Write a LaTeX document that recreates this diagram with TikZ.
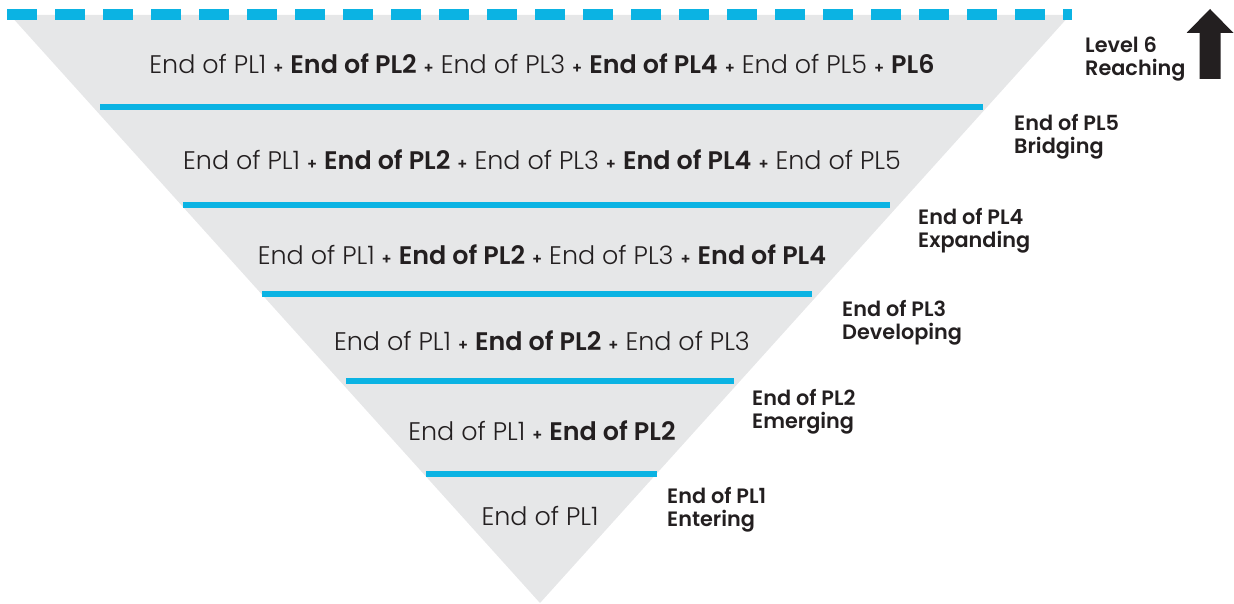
\documentclass[tikz,border=0pt]{standalone}
\usepackage{fontspec}
\setmainfont{Poppins}[UprightFont={* Light},BoldFont={* SemiBold}]
\definecolor{tri}{HTML}{E6E7E8}
\definecolor{lvl}{HTML}{0BB3E3}
\definecolor{ink}{HTML}{231F20}
\newcommand{\pls}{\hspace{7pt}{\bfseries\fontsize{15}{20}\selectfont +}\hspace{7pt}}
\tikzset{
  rowtext/.style={inner sep=0pt, text=ink, font=\fontsize{25.4}{30}\selectfont},
  lvltext/.style={inner sep=0pt, anchor=west, align=left, text=ink, font=\bfseries\fontsize{20.8}{23}\selectfont},
  band/.style={draw=lvl, line width=6pt},
}
\begin{document}
\begin{tikzpicture}[x=1pt,y=-1pt]
\useasboundingbox (0,0) rectangle (1234,604);
% triangle
\fill[tri] (10,15) -- (1070,15) -- (540,603) -- cycle;
% dashed top
\draw[lvl, line width=11pt, dash pattern=on 30pt off 18pt] (7,15) -- (1072,15);
% bands
\draw[band] (100,107) -- (983,107);
\draw[band] (183,205) -- (890,205);
\draw[band] (262,294) -- (812,294);
\draw[band] (346,381) -- (734,381);
\draw[band] (426,474) -- (657,474);
% row texts
\node[rowtext] (r6) at (542,64) {End of PL1\pls\textbf{End of PL2}\pls End of PL3\pls\textbf{End of PL4}\pls End of PL5\pls\textbf{PL6}};
\node[rowtext] (r5) at (542,160) {End of PL1\pls\textbf{End of PL2}\pls End of PL3\pls\textbf{End of PL4}\pls End of PL5};
\node[rowtext] (r4) at (542,255) {End of PL1\pls\textbf{End of PL2}\pls End of PL3\pls\textbf{End of PL4}};
\node[rowtext] (r3) at (542,341) {End of PL1\pls\textbf{End of PL2}\pls End of PL3};
\node[rowtext] (r2) at (542,431) {End of PL1\pls\textbf{End of PL2}};
\node[rowtext] (r1) at (540,516) {End of PL1};
% level labels
\node[lvltext] (l6) at (1085,59) {Level 6\\Reaching};
\node[lvltext] (l5) at (1014,137) {End of PL5\\Bridging};
\node[lvltext] (l4) at (918,231) {End of PL4\\Expanding};
\node[lvltext] (l3) at (842,323) {End of PL3\\Developing};
\node[lvltext] (l2) at (752,412) {End of PL2\\Emerging};
\node[lvltext] (l1) at (667,510) {End of PL1\\Entering};
% arrow
\fill[ink] (1199.5,79) -- (1220.5,79) -- (1220.5,33) -- (1233.5,33) -- (1210,9) -- (1186.5,33) -- (1199.5,33) -- cycle;
\end{tikzpicture}
\end{document}
